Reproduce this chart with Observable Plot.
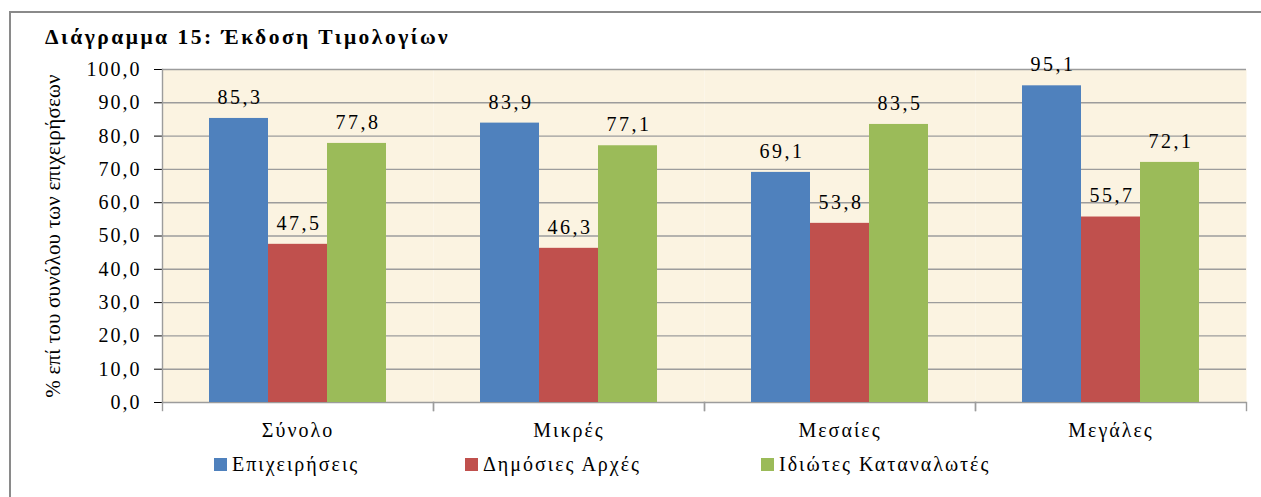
<!DOCTYPE html>
<html>
<head>
<meta charset="utf-8">
<script src="https://cdn.jsdelivr.net/npm/d3@7"></script>
<script src="https://cdn.jsdelivr.net/npm/@observablehq/plot@0.6"></script>
<style>
  html, body { margin: 0; padding: 0; background: #fff; }
  body { width: 1261px; height: 497px; overflow: hidden; position: relative;
         font-family: "Liberation Serif", "DejaVu Serif", serif; }
  #border { position: absolute; left: 9px; top: 11px; width: 1400px; height: 700px;
            border: 2px solid #8a8a8a; box-sizing: border-box; }
  #title { position: absolute; left: 45px; top: 27px; font-weight: bold; font-size: 21.5px;
           line-height: 1; letter-spacing: 2.5px; color: #000; white-space: nowrap; }
  #chart { position: absolute; left: 0; top: 45px; }
  #chart svg text { letter-spacing: 2px; }
  #chart svg g[aria-label="text"] text { letter-spacing: 2.5px; }
  #chart svg g[aria-label="y-axis label"] text { font-size: 21px; letter-spacing: 0.2px; }
  #legend { position: absolute; left: 214px; top: 452px; display: flex; font-size: 20px;
            letter-spacing: 2px; line-height: 24px; color: #000; }
  .item { display: flex; align-items: center; white-space: nowrap; }
  .sw { width: 13px; height: 13px; display: inline-block; margin-right: 5px; flex: none; }
</style>
</head>
<body>
<div id="border"></div>
<div id="title">Διάγραμμα 15: Έκδοση Τιμολογίων</div>
<div id="chart"></div>
<div id="legend"></div>
<script>
const categories = ["Σύνολο", "Μικρές", "Μεσαίες", "Μεγάλες"];
const seriesNames = ["Επιχειρήσεις", "Δημόσιες Αρχές", "Ιδιώτες Καταναλωτές"];
const epixeiriseis = [85.3, 83.9, 69.1, 95.1];
const dimosiesArxes = [47.5, 46.3, 53.8, 55.7];
const idiotes = [77.8, 77.1, 83.5, 72.1];
const yTicks = [0, 10, 20, 30, 40, 50, 60, 70, 80, 90, 100];
const colors = ["#4F81BD", "#C0504D", "#9BBB59"];
const yLabel = "% επί του συνόλου των επιχειρήσεων";
const legendWidths = [251, 296, null];

const seriesValues = [epixeiriseis, dimosiesArxes, idiotes];
const data = [];
categories.forEach((c, i) => {
  seriesNames.forEach((s, j) => data.push({cat: c, series: s, value: seriesValues[j][i]}));
});
const fmt = d => d.toFixed(1).replace(".", ",");

const W = 1261, H = 402, mT = 24, mB = 45, mL = 161, mR = 14;
const plotH = H - mT - mB;
const gridColor = "#9c9c9c";

const chart = Plot.plot({
  width: W, height: H,
  marginTop: mT, marginBottom: mB, marginLeft: mL, marginRight: mR,
  style: {fontFamily: '"Liberation Serif", "DejaVu Serif", serif', fontSize: "20px", color: "#000", background: "transparent"},
  fx: {domain: categories, padding: 0, label: null, tickSize: 0, tickPadding: 20, axis: "bottom"},
  x: {domain: seriesNames, paddingInner: 0, paddingOuter: 0.7625, axis: null},
  y: {domain: [0, 100], ticks: yTicks, tickFormat: fmt, tickSize: 8, tickPadding: 13,
      label: yLabel, labelAnchor: "center", labelArrow: "none", labelOffset: 117},
  color: {domain: seriesNames, range: colors},
  marks: [
    Plot.frame({fill: "#FBF3E1", stroke: null}),
    Plot.ruleY(yTicks, {stroke: gridColor, strokeWidth: 1.4}),
    Plot.frame({anchor: "left", facet: "super", stroke: gridColor, strokeWidth: 1.4}),
    Plot.frame({anchor: "left", stroke: gridColor, strokeWidth: 1.4, insetTop: plotH, insetBottom: -8}),
    Plot.frame({anchor: "right", stroke: gridColor, strokeWidth: 1.4, insetTop: plotH, insetBottom: -8}),
    Plot.barY(data, {fx: "cat", x: "series", y: "value", fill: "series"}),
    Plot.text(data, {fx: "cat", x: "series", y: "value", text: d => fmt(d.value), dy: -21, dx: 1, fontSize: 20, fill: "#000"})
  ]
});
document.getElementById("chart").appendChild(chart);

const legend = document.getElementById("legend");
seriesNames.forEach((s, i) => {
  const item = document.createElement("div");
  item.className = "item";
  if (legendWidths[i]) item.style.width = legendWidths[i] + "px";
  const sw = document.createElement("span");
  sw.className = "sw";
  sw.style.background = colors[i];
  const t = document.createElement("span");
  t.textContent = s;
  item.appendChild(sw);
  item.appendChild(t);
  legend.appendChild(item);
});
</script>
</body>
</html>
